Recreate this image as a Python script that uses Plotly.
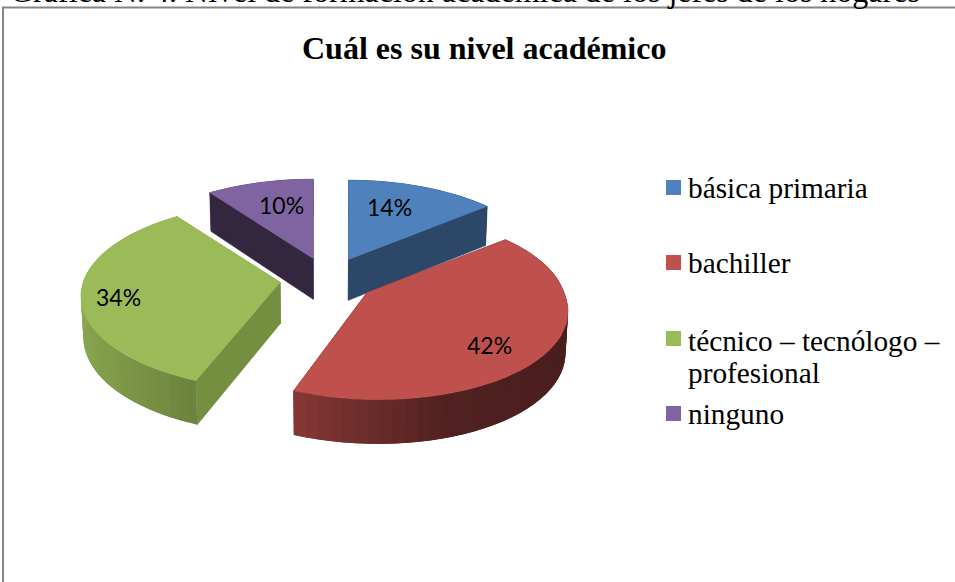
import numpy as np
import plotly.graph_objects as go

# Data
categories = ["básica primaria", "bachiller", "técnico – tecnólogo – profesional", "ninguno"]
legend_lines = [["básica primaria"], ["bachiller"], ["técnico – tecnólogo –", "profesional"], ["ninguno"]]
values = [14, 42, 34, 10]
top_colors = ["#4F81BD", "#C0504D", "#9BBB59", "#8064A2"]
cut_colors = ["#2C4767", "#4A1E1C", "#758F40", "#33263F"]
pull = 0.245
front_shear = [0, 0.11, 0, 0]
title = "Cuál es su nivel académico"
caption = "Gráfica N. 4. Nivel de formación académica de los jefes de los hogares"

# Projection of the tilted pie onto the picture
CX, CY, A, B, K, DEPTH = 328, 279.5, 197, 91, 0.149, 41


def shade(hex_color, f):
    r, g, b = [int(hex_color[i:i + 2], 16) for i in (1, 3, 5)]
    return f"rgb({int(r * f)},{int(g * f)},{int(b * f)})"


def polygon(xs, ys, color, width=0.6):
    return go.Scatter(x=list(xs) + [xs[0]], y=list(ys) + [ys[0]], mode="lines", fill="toself",
                      fillcolor=color, line=dict(color=color, width=width), hoverinfo="skip", showlegend=False)


fig = go.Figure()
total = sum(values)
edges = np.cumsum([0] + values) / total * 2 * np.pi


def draw_slice(i):
    t0, t1 = edges[i], edges[i + 1]
    mid = (t0 + t1) / 2
    ax = CX + A * pull * np.sin(mid)
    ay = CY - B * pull * np.cos(mid)
    ad = DEPTH
    n = 48
    th = np.linspace(t0, t1, n + 1)
    den = 1 + K * np.cos(th)
    dy = -B * np.cos(th) / den
    dx = A * np.sin(th) / den + front_shear[i] * np.clip(dy, 0, None)
    px, py = ax + dx, ay + dy
    pd = DEPTH / den ** 0.5
    # bottom x is slightly pulled inward
    bx = CX + (px - CX) * 0.99
    abx = CX + (ax - CX) * 0.99

    def strips(idx):
        for j in idx:
            k = min(j + 2, n)
            f = float(np.interp(np.sin((th[j] + th[j + 1]) / 2), [-1, -0.37, 0.3, 1], [0.9, 0.70, 0.42, 0.38]))
            fig.add_trace(polygon([px[j], px[k], bx[k], bx[j]],
                                  [py[j], py[k], py[k] + pd[k], py[j] + pd[j]],
                                  shade(top_colors[i], f), width=0))

    mids = (th[:-1] + th[1:]) / 2
    strips([j for j in range(n) if np.cos(mids[j]) >= 0])
    # cut faces
    for j in (0, -1):
        fig.add_trace(polygon([ax, px[j], bx[j], abx], [ay, py[j], py[j] + pd[j], ay + ad], cut_colors[i]))
    strips([j for j in range(n) if np.cos(mids[j]) < 0])
    # top
    fig.add_trace(polygon([ax] + list(px), [ay] + list(py), top_colors[i]))


# Painter's order: back slices first
for i in (3, 0, 2, 1):
    draw_slice(i)

# Legend swatches
legend_y = [187.5, 262.5, 338.5, 413.5]
fig.add_trace(go.Scatter(x=[673.5] * 4, y=legend_y, mode="markers", showlegend=False, hoverinfo="skip",
                         marker=dict(symbol="square", size=15, color=top_colors, line=dict(width=0))))

annotations = [
    dict(x=484, y=47.5, text=f"<b>{title}</b>", showarrow=False,
         font=dict(family="Liberation Serif", size=32, color="#000000")),
    dict(x=8, y=11, yanchor="bottom", xanchor="left", text=caption, showarrow=False,
         font=dict(family="Liberation Serif", size=32, color="#000000")),
]
legend_text_y = [[187.5], [263], [341, 373], [414]]
for lines, ys in zip(legend_lines, legend_text_y):
    for lab, y in zip(lines, ys):
        annotations.append(dict(x=686, y=y, yanchor="middle", xanchor="left", align="left",
                                text=lab, showarrow=False,
                                font=dict(family="Liberation Serif", size=29.3, color="#000000")))
label_pos = [(389, 207), (489, 345), (118, 297), (281, 205)]
for v, (x, y) in zip(values, label_pos):
    annotations.append(dict(x=x, y=y, text=f"{v}%", showarrow=False,
                            font=dict(family="Lato", size=23, color="#000000")))

fig.update_layout(
    width=955, height=582, margin=dict(l=0, r=0, t=0, b=0),
    paper_bgcolor="white", plot_bgcolor="white",
    xaxis=dict(range=[0, 955], visible=False, fixedrange=True, domain=[0, 1]),
    yaxis=dict(range=[582, 0], visible=False, fixedrange=True, domain=[0, 1]),
    annotations=annotations,
    shapes=[dict(type="rect", x0=3, y0=7.5, x1=970, y1=600,
                 line=dict(color="#868686", width=2), fillcolor="rgba(0,0,0,0)", layer="below")],
)
fig.write_html("out.html", config={"displayModeBar": False},
               post_script="document.body.style.margin='0';document.body.style.overflow='hidden';")
